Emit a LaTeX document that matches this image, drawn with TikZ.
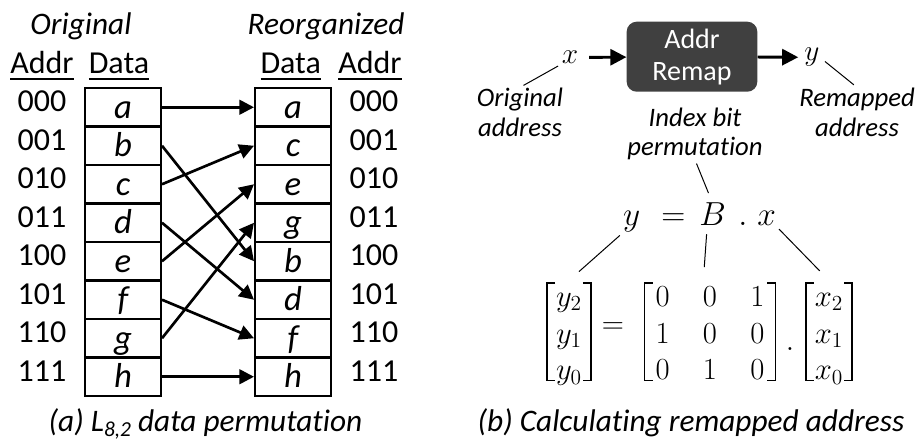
\RequirePackage{fix-cm}
\documentclass[tikz,border=0pt]{standalone}
\usepackage{amsmath}
\usepackage{fontspec}
\setmainfont{Carlito}[Ligatures={NoCommon,NoContextual}]
\usetikzlibrary{arrows.meta}
\definecolor{boxgray}{RGB}{64,64,64}

\begin{document}
\begin{tikzpicture}[x=0.75pt,y=-0.75pt,
  cell/.style={draw,line width=1.8pt,minimum width=56.7pt,minimum height=28.9pt,
    inner sep=0pt,text height=20pt,text depth=3.5pt,font=\fontsize{26}{30}\selectfont\itshape},
  addr/.style={anchor=base,inner sep=0pt,font=\fontsize{24}{28}\selectfont},
  head/.style={anchor=base,inner sep=0pt,font=\fontsize{24}{28}\selectfont},
  headit/.style={anchor=base,inner sep=0pt,font=\fontsize{23.5}{27}\selectfont\itshape},
  perm/.style={line width=2pt,-{Triangle[length=11pt,width=11pt]}},
  flow/.style={line width=2.2pt,-{Triangle[length=12pt,width=12pt]}},
  remapbox/.style={fill=boxgray,rounded corners=7.5pt,minimum width=98pt,minimum height=52.5pt,
    text=white,align=center,inner sep=0pt,font=\fontsize{21}{23.8}\selectfont},
  lbl/.style={align=center,inner sep=0pt,font=\fontsize{20}{22.5}\selectfont\itshape},
  mathlbl/.style={inner sep=0pt,font=\fontsize{22}{26}\selectfont},
  eqpart/.style={anchor=base,inner sep=0pt,font=\fontsize{25}{29}\selectfont},
  matpart/.style={inner ysep=0pt,inner xsep=6.5pt,font=\fontsize{23}{27.5}\selectfont},
  brk/.style={line width=1.1pt},
  leader/.style={line width=0.75pt}
]
\useasboundingbox (0,0) rectangle (922,442);

% ---------- (a) data permutation ----------
\node[headit] (hOrig) at (81,35) {Original};
\node[headit] (hReorg) at (326,35) {Reorganized};
\node[head] (hAL) at (42,74) {\underline{Addr}};
\node[head] (hDL) at (119,74) {\underline{Data}};
\node[head] (hDR) at (290.7,74) {\underline{Data}};
\node[head] (hAR) at (370,74) {\underline{Addr}};

\foreach \l [count=\i from 0] in {a,b,c,d,e,f,g,h}
  \node[cell] (L\i) at (123,{107.25+38.5*\i}) {\l};
\foreach \l [count=\i from 0] in {a,c,e,g,b,d,f,h}
  \node[cell] (R\i) at (293,{107.25+38.5*\i}) {\l};
\foreach \a [count=\i from 0] in {000,001,010,011,100,101,110,111}{
  \node[addr] (AL\i) at (42,{111.75+38.5*\i}) {\a};
  \node[addr] (AR\i) at (374,{111.75+38.5*\i}) {\a};
}
\foreach \s/\t in {0/0,1/4,2/1,3/5,4/2,5/6,6/3,7/7}
  \draw[perm] (L\s.east) -- (R\t.west);

\node[headit] (capA) at (205.5,431)
  {(a) L\raisebox{-4.5pt}{\fontsize{16}{18}\selectfont 8,2} data permutation};

% ---------- (b) remapped address ----------
\node[remapbox] (remap) at (692,56.7) {Addr\\Remap};
\node[mathlbl] (xin) at (570,57.5) {$x$};
\node[mathlbl] (yout) at (812,57.3) {$y$};
\draw[flow,shorten <=8pt] (xin) -- (remap);
\draw[flow,shorten >=4.5pt] (remap) -- (yout);

\node[lbl] (lblOrig) at (520,112) {Original\\address};
\node[lbl] (lblRem) at (857,112) {Remapped\\address};
\node[lbl,font=\fontsize{20}{21.3}\selectfont\itshape] (lblIdx) at (695,134) {Index bit\\permutation};

\draw[leader,shorten <=3pt,shorten >=3pt] (xin.south west) -- (lblOrig.north);
\draw[leader,shorten <=5pt,shorten >=3pt] (yout.east) -- (lblRem.north);

\node[eqpart] (eqy) at (631.7,226) {$y$};
\node[eqpart] (eqeq) at (673.3,226) {$=$};
\node[eqpart] (eqB) at (712.5,226) {$B$};
\node[eqpart] (eqdot) at (743,226) {$.$};
\node[eqpart] (eqx) at (766.7,226) {$x$};

\draw[leader,shorten <=3pt,shorten >=8pt] (lblIdx.south) -- (eqB.north);

% matrix equation: contents as plain arrays, square brackets drawn around them
\node[matpart] (vecY) at (569,335.7) {$\begin{matrix} y_2\\ y_1\\ y_0\end{matrix}$};
\node[matpart,inner xsep=0pt] (eq2) at (613,328) {$=$};
\node[matpart,inner xsep=8pt] (matB) at (710,335.7)
  {\setlength{\arraycolsep}{12.5pt}$\begin{matrix}0&0&1\\1&0&0\\0&1&0\end{matrix}$};
\node[matpart,inner xsep=0pt,anchor=base] (dot2) at (790,350) {$.$};
\node[matpart] (vecX) at (829,335.7) {$\begin{matrix} x_2\\ x_1\\ x_0\end{matrix}$};

\foreach \n in {vecY,matB,vecX}{
  \draw[brk] ([xshift=6pt,yshift=-2pt]\n.north west) -- ([yshift=-2pt]\n.north west)
    -- ([yshift=8pt]\n.south west) -- ([xshift=6pt,yshift=8pt]\n.south west);
  \draw[brk] ([xshift=-6pt,yshift=-2pt]\n.north east) -- ([yshift=-2pt]\n.north east)
    -- ([yshift=8pt]\n.south east) -- ([xshift=-6pt,yshift=8pt]\n.south east);
}

\draw[leader,shorten <=3pt,shorten >=10pt] (eqy.south west) -- (vecY.north);
\draw[leader,shorten <=6pt,shorten >=10pt] ([xshift=-4pt]eqB.south) -- ([xshift=-5pt]matB.north);
\draw[leader,shorten <=3pt,shorten >=10pt] (eqx.south east) -- (vecX.north);

\node[headit] (capB) at (691,431) {(b) Calculating remapped address};
\end{tikzpicture}
\end{document}
